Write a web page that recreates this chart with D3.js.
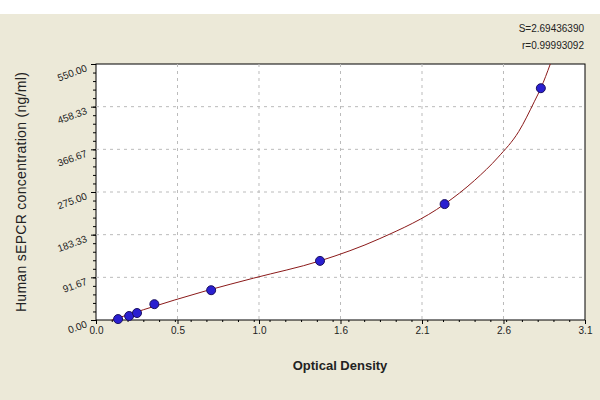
<!DOCTYPE html><html><head><script src="https://cdn.jsdelivr.net/npm/d3@7"></script>
<style>body{margin:0;background:#fff}</style></head><body><svg id="c" width="600" height="400"></svg><script>
const xTicks=[0,0.5167,1.0333,1.55,2.0667,2.5833,3.1];
const xTickLabels=["0.0","0.5","1.0","1.6","2.1","2.6","3.1"];
const yTicks=[0,91.67,183.33,275,366.67,458.33,550];
const yTickLabels=["0.00","91.67","183.33","275.00","366.67","458.33","550.00"];
const od=[0.14,0.21,0.26,0.37,0.73,1.42,2.21,2.82];
const conc=[2,8.6,15,34,64,127,249,498];
const curveOD=[0.1,0.3,0.7,1.0,1.42,1.8,2.21,2.4,2.55,2.68,2.78,2.82,2.88];
const curveConc=[0,22,63,90,127,175,249,300,350,405,470,498,550];
const svg=d3.select("#c");
svg.append("rect").attr("y",14).attr("width",600).attr("height",386).attr("fill","#ECE9D8");
const m={l:96,r:585,t:64,b:320};
const x=d3.scaleLinear().domain([0,3.1]).range([m.l,m.r]);
const y=d3.scaleLinear().domain([0,550]).range([m.b,m.t]);
svg.append("rect").attr("x",m.l).attr("y",m.t).attr("width",m.r-m.l).attr("height",m.b-m.t).attr("fill","#fff").attr("stroke","#000");
const g=svg.append("g");
xTicks.slice(1,-1).forEach(t=>g.append("line").attr("x1",x(t)).attr("x2",x(t)).attr("y1",m.t).attr("y2",m.b).attr("stroke","#bbb").attr("stroke-dasharray","3,4"));
yTicks.slice(1,-1).forEach(t=>g.append("line").attr("y1",y(t)).attr("y2",y(t)).attr("x1",m.l).attr("x2",m.r).attr("stroke","#bbb").attr("stroke-dasharray","3,4"));
const xa=svg.append("g").attr("transform",`translate(0,${m.b})`).call(d3.axisBottom(x).tickValues(xTicks).tickFormat((d,i)=>xTickLabels[i]).tickSize(4));
const xm=svg.append("g").attr("transform",`translate(0,${m.b})`).call(d3.axisBottom(x).ticks(31).tickFormat("").tickSize(2));
const ya=svg.append("g").attr("transform",`translate(${m.l},0)`).call(d3.axisLeft(y).tickValues(yTicks).tickFormat((d,i)=>yTickLabels[i]).tickSize(5));
const ym=svg.append("g").attr("transform",`translate(${m.l},0)`).call(d3.axisLeft(y).tickValues(d3.range(0,551,550/30)).tickFormat("").tickSize(3));
[xa,xm,ya,ym].forEach(a=>{a.select(".domain").remove();a.selectAll("text").attr("font-family","Liberation Sans, Arial").attr("font-size",10).attr("fill","#222");});
ya.selectAll("text").attr("transform","rotate(-20)").attr("dx",-2);
svg.append("path").datum(curveOD.map((d,i)=>[d,curveConc[i]])).attr("d",d3.line().x(d=>x(d[0])).y(d=>y(d[1])).curve(d3.curveMonotoneX)).attr("fill","none").attr("stroke","#8B1A1A").attr("stroke-width",1);
svg.selectAll("circle").data(od).join("circle").attr("cx",d=>x(d)).attr("cy",(d,i)=>y(conc[i])).attr("r",4.5).attr("fill","#2a1fd0").attr("stroke","#1a1060");
svg.append("text").attr("x",340).attr("y",370).attr("text-anchor","middle").attr("font-family","Liberation Sans, Arial").attr("font-weight","bold").attr("font-size",13).attr("fill","#222").text("Optical Density");
svg.append("text").attr("transform","translate(26,192) rotate(-90)").attr("text-anchor","middle").attr("font-family","Liberation Sans, Arial").attr("font-size",14).attr("letter-spacing",0.3).attr("fill","#222").text("Human sEPCR concentration (ng/ml)");
svg.append("text").attr("x",584).attr("y",32).attr("text-anchor","end").attr("font-family","Liberation Sans, Arial").attr("font-size",10).attr("fill","#222").text("S=2.69436390");
svg.append("text").attr("x",584).attr("y",49).attr("text-anchor","end").attr("font-family","Liberation Sans, Arial").attr("font-size",10).attr("fill","#222").text("r=0.99993092");
</script></body></html>
